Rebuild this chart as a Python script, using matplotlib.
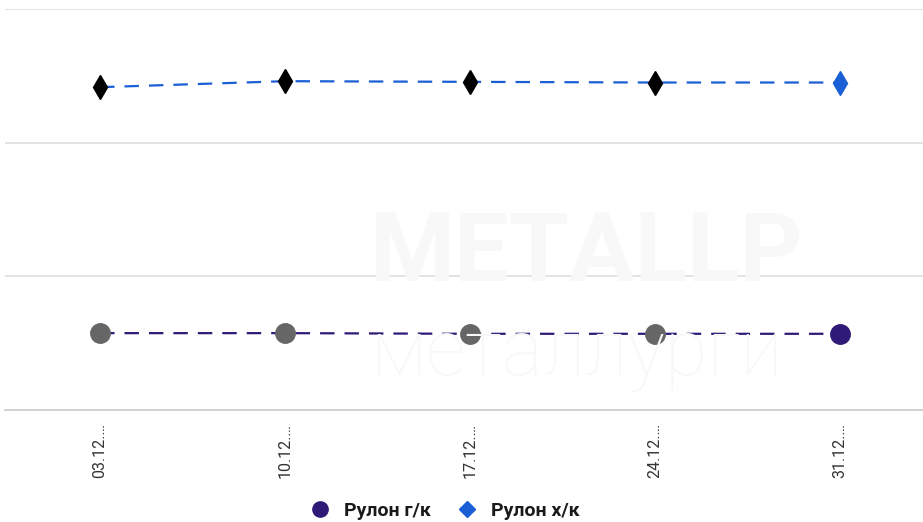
import matplotlib
matplotlib.use("Agg")
import matplotlib.pyplot as plt
from matplotlib.lines import Line2D

plt.rcParams['font.family'] = ['Roboto', 'DejaVu Sans']

# data (y axis labels are not shown in the picture, values estimated)
dates = ['03.12.…', '10.12.…', '17.12.…', '24.12.…', '31.12.…']
hot_rolled = [55750, 55750, 55700, 55700, 55700]    # Рулон г/к
cold_rolled = [74150, 74600, 74550, 74500, 74500]   # Рулон х/к
y_grid = [50000, 60000, 70000, 80000]

purple = '#2f1a78'
blue = '#1a5fd6'
grey_marker = '#666666'

fig = plt.figure(figsize=(9.23, 5.22), dpi=100)
ax = fig.add_axes([5 / 923, 1 - 410 / 522, 918 / 923, 401 / 522])

# faint watermark in the background
fig.text(370 / 923, 1 - 255 / 522, 'METALLP', fontsize=70, fontweight='bold',
         color='#f8f8f8', va='center', ha='left', zorder=0)
fig.text(370 / 923, 1 - 355 / 522, 'металлурги', fontsize=56, fontweight='light',
         color='#f8f8f8', va='center', ha='left', zorder=0)

x = list(range(len(dates)))

dash = (0, (6.5, 4.5))
ax.plot(x, hot_rolled, color=purple, lw=1.6, linestyle=dash, zorder=3)
ax.plot(x, cold_rolled, color=blue, lw=1.6, linestyle=dash, zorder=3)

# earlier points are grey/black, the latest one in series colour
ax.plot(x[:-1], hot_rolled[:-1], 'o', color=grey_marker, markersize=14, zorder=4)
ax.plot(x[-1:], hot_rolled[-1:], 'o', color=purple, markersize=14, zorder=4)
ax.plot(x[:-1], cold_rolled[:-1], 'd', color='black', markersize=12, zorder=4)
ax.plot(x[-1:], cold_rolled[-1:], 'd', color=blue, markersize=12, zorder=4)

ax.set_xlim(-0.514, 4.449)
ax.set_ylim(50000, 80000)
ax.set_yticks(y_grid)
ax.yaxis.grid(True, color='#e0e0e0', lw=1.3)
ax.set_axisbelow(True)
ax.tick_params(axis='y', left=False, labelleft=False)
ax.set_xticks(x)
ax.set_xticklabels(dates, rotation=90, fontsize=11.5, color='#333333')
ax.tick_params(axis='x', length=0, pad=9)
for side in ['left', 'right', 'top']:
    ax.spines[side].set_visible(False)
ax.spines['bottom'].set_color('#d0d0d0')
ax.spines['bottom'].set_linewidth(1.3)
ax.patch.set_alpha(0)

handles = [
    Line2D([], [], marker='o', color=purple, linestyle='', markersize=11),
    Line2D([], [], marker='D', color=blue, linestyle='', markersize=8.5),
]
fig.legend(handles, ['Рулон г/к', 'Рулон х/к'], loc='center', ncol=2,
           bbox_to_anchor=(440 / 923, 1 - 511 / 522), frameon=False,
           prop={'size': 14, 'weight': 'bold'}, handletextpad=0.2,
           columnspacing=0.9, labelcolor='#1a1a1a')

plt.savefig('out.png', dpi=100)
